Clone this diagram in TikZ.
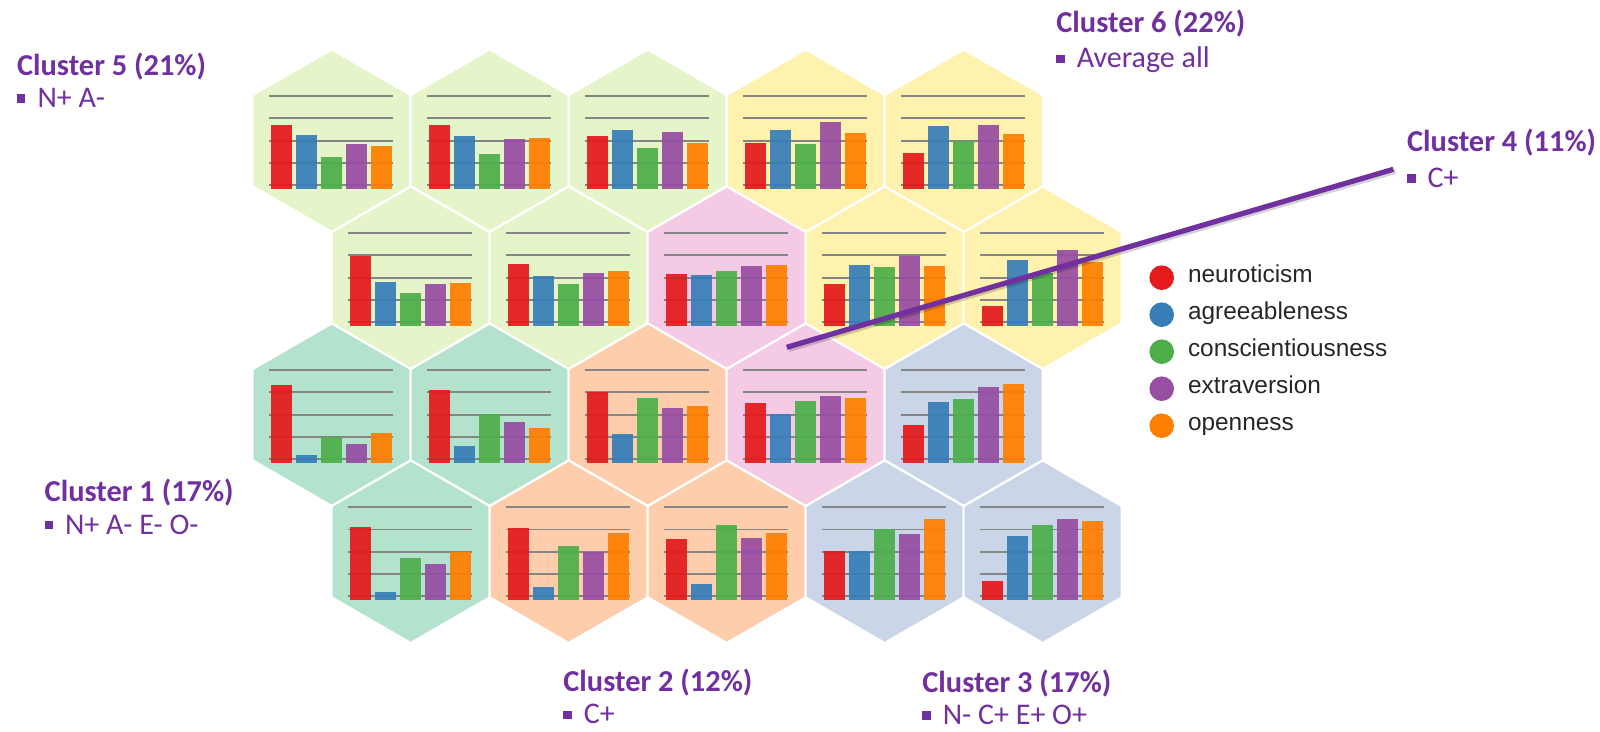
\documentclass[tikz,border=0pt]{standalone}
\usepackage{fontspec}
\setmainfont{Carlito}
\newfontfamily\legendfont{Liberation Sans}
\usetikzlibrary{shapes.geometric,positioning,calc}

% pastel cells and bar colours
\definecolor{cellteal}{HTML}{B3E2CD}
\definecolor{cellpeach}{HTML}{FDCDAC}
\definecolor{cellblue}{HTML}{CBD5E8}
\definecolor{cellpink}{HTML}{F4CAE4}
\definecolor{cellgreen}{HTML}{E6F5C9}
\definecolor{cellyellow}{HTML}{FFF2AE}
\definecolor{neured}{HTML}{E41A1C}
\definecolor{agrblue}{HTML}{377EB8}
\definecolor{congreen}{HTML}{4DAF4A}
\definecolor{extpurple}{HTML}{984EA3}
\definecolor{opeorange}{HTML}{FF7F00}
\definecolor{clusterpurple}{HTML}{7030A0}

\newcommand{\sqbullet}{\raisebox{0.16em}{\rule{0.28em}{0.28em}}\hspace{0.4em}}

\tikzset{
  hexcell/.style={regular polygon, regular polygon sides=6, shape border rotate=30,
    minimum size=91.3pt, inner sep=0pt, draw=white, line width=1.1pt},
  gridline/.style={draw=black!48, line width=0.95pt},
  bar1/.style={fill=neured, fill opacity=0.93},
  bar2/.style={fill=agrblue, fill opacity=0.93},
  bar3/.style={fill=congreen, fill opacity=0.93},
  bar4/.style={fill=extpurple, fill opacity=0.93},
  bar5/.style={fill=opeorange, fill opacity=0.93},
  title/.style={font=\bfseries\fontsize{15.2}{17}\selectfont, text=clusterpurple,
    inner sep=0pt, anchor=base west},
  item/.style={font=\fontsize{15}{17}\selectfont, text=clusterpurple,
    inner sep=0pt, anchor=base west},
  legdot/.style={circle, inner sep=0pt, minimum size=12.3pt},
  legtext/.style={font=\legendfont\fontsize{12.2}{14}\selectfont, text=black!85,
    inner sep=0pt, text height=1.55ex, text depth=0.45ex},
  pointer/.style={draw=clusterpurple, line width=2.6pt},
}

\begin{document}
\begin{tikzpicture}[x=0.5pt, y=-0.5pt]
  \useasboundingbox (0,0) rectangle (1600,732);

  % Define nodes: the map cells with their bar charts
  \foreach \r/\c/\col/\vals in {
      0/0/cellgreen/{2.71,2.26,1.26,1.86,1.74},
      0/1/cellgreen/{2.71,2.22,1.38,2.08,2.14},
      0/2/cellgreen/{2.22,2.46,1.69,2.39,1.91},
      0/3/cellyellow/{1.91,2.46,1.87,2.82,2.36},
      0/4/cellyellow/{1.43,2.67,1.99,2.70,2.30},
      1/0/cellgreen/{2.99,1.81,1.31,1.72,1.76},
      1/1/cellgreen/{2.61,2.06,1.72,2.22,2.31},
      1/2/cellpink/{2.18,2.10,2.30,2.52,2.57},
      1/3/cellyellow/{1.70,2.58,2.46,2.99,2.54},
      1/4/cellyellow/{0.75,2.80,2.20,3.25,2.70},
      2/0/cellteal/{3.33,0.18,1.00,0.69,1.19},
      2/1/cellteal/{3.12,0.58,2.01,1.66,1.40},
      2/2/cellpeach/{3.01,1.15,2.73,2.28,2.37},
      2/3/cellpink/{2.52,2.05,2.61,2.83,2.76},
      2/4/cellblue/{1.53,2.59,2.70,3.25,3.36},
      3/0/cellteal/{3.13,0.21,1.72,1.43,2.00},
      3/1/cellpeach/{3.06,0.40,2.27,2.00,2.84},
      3/2/cellpeach/{2.57,0.54,3.21,2.63,2.82},
      3/3/cellblue/{2.04,2.03,3.00,2.78,3.49},
      3/4/cellblue/{0.67,2.69,3.20,3.48,3.39}}{
    \pgfmathsetmacro\cx{331.7+158*\c+79*mod(\r,2)}
    \pgfmathsetmacro\cy{140.7+137*\r}
    \node[hexcell, fill=\col] (h-\r-\c) at (\cx,\cy) {};
    \foreach \g in {-44.5,-22.25,0,22.25,44.5}
      \draw[gridline] ($(h-\r-\c)+(-62.4,\g)$) -- ++(124,0);
    \foreach \v [count=\i] in \vals
      \fill[bar\i] ($(h-\r-\c)+(-85.7+25*\i,48.5)$) rectangle ++(21,-4-22.25*\v);
  }

  % legend
  \node[legdot, fill=neured]                    (dneu) at (1161.7,277.7) {};
  \node[legdot, fill=agrblue,   below=5.8pt of dneu] (dagr) {};
  \node[legdot, fill=congreen,  below=5.8pt of dagr] (dcon) {};
  \node[legdot, fill=extpurple, below=5.8pt of dcon] (dext) {};
  \node[legdot, fill=opeorange, below=5.8pt of dext] (dope) {};
  \node[legtext, right=6.6pt of dneu] (tneu) {neuroticism};
  \node[legtext, right=6.6pt of dagr] (tagr) {agreeableness};
  \node[legtext, right=6.6pt of dcon] (tcon) {conscientiousness};
  \node[legtext, right=6.6pt of dext] (text) {extraversion};
  \node[legtext, right=6.6pt of dope] (tope) {openness};

  % cluster labels
  \node[title] (c5t) at (16.7,75.7)   {Cluster 5 (21\%)};
  \node[item]  (c5i) at ([yshift=-16pt]c5t.base west) {\sqbullet N+ A-};
  \node[title] (c6t) at (1056,33)     {Cluster 6 (22\%)};
  \node[item]  (c6i) at ([yshift=-17.5pt]c6t.base west) {\sqbullet Average all};
  \node[title] (c4t) at (1406.7,151.7) {Cluster 4 (11\%)};
  \node[item]  (c4i) at ([yshift=-18pt]c4t.base west) {\sqbullet C+};
  \node[title] (c1t) at (44.3,501.7)  {Cluster 1 (17\%)};
  \node[item]  (c1i) at ([yshift=-16.2pt]c1t.base west) {\sqbullet N+ A- E- O-};
  \node[title] (c2t) at (563,691.7)   {Cluster 2 (12\%)};
  \node[item]  (c2i) at ([yshift=-16pt]c2t.base west) {\sqbullet C+};
  \node[title] (c3t) at (922,692.5)   {Cluster 3 (17\%)};
  \node[item]  (c3i) at ([yshift=-16pt]c3t.base west) {\sqbullet N- C+ E+ O+};

  % Connect the nodes
  \coordinate (c4from) at (786.7,347.3);
  \coordinate (c4to) at (1393.3,169.3);
  \draw[pointer, draw=black, opacity=0.18] ([shift={(1pt,-1pt)}]c4from) -- ([shift={(1pt,-1pt)}]c4to);
  \draw[pointer] (c4from) -- (c4to);
\end{tikzpicture}
\end{document}
